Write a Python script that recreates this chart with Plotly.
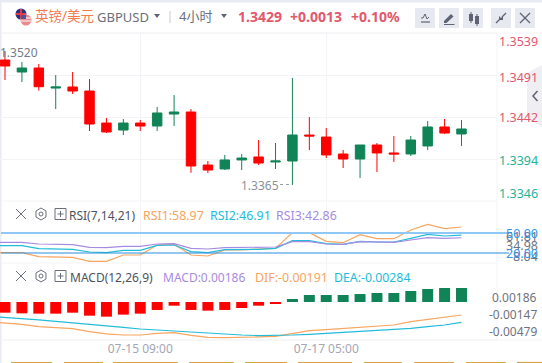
import plotly.graph_objects as go

W, H = 542, 363
index = list(range(28))
line_index = [-1] + index
opens = [1.35081,1.34944,1.34990,1.34761,1.34773,1.34727,1.34361,1.34281,1.34361,1.34327,1.34464,1.34487,1.33881,1.33836,1.33939,1.33973,1.33916,1.33927,1.34224,1.34201,1.34007,1.33950,1.34110,1.34019,1.34007,1.34099,1.34316,1.34236]
highs = [1.35184,1.35059,1.35036,1.34910,1.34944,1.34864,1.34419,1.34407,1.34396,1.34544,1.34681,1.34521,1.33927,1.33996,1.34007,1.34167,1.34133,1.34876,1.34430,1.34304,1.34053,1.34110,1.34133,1.34213,1.34213,1.34384,1.34407,1.34396]
lows = [1.34853,1.34830,1.34731,1.34521,1.34693,1.34270,1.34247,1.34224,1.34270,1.34270,1.34327,1.33793,1.33790,1.33824,1.33824,1.33881,1.33836,1.33653,1.34053,1.33961,1.33847,1.33733,1.33801,1.33916,1.33984,1.34053,1.34236,1.34099]
closes = [1.35013,1.34990,1.34776,1.34773,1.34727,1.34350,1.34259,1.34361,1.34327,1.34476,1.34487,1.33870,1.33824,1.33939,1.33961,1.33904,1.33927,1.34224,1.34213,1.33996,1.33950,1.34110,1.34019,1.34007,1.34167,1.34316,1.34247,1.34293]
rsi1 = [20.5,20.5,20.5,14.5,14.5,13.5,7.5,7.5,17,17,32,33,17,15.5,24.5,24.5,26,27,50.5,50.5,37.5,35.5,47.5,41.5,41.5,54.5,63,56.5,58.97]
rsi2 = [31,31,31,26.5,26.5,25.5,21.5,20.5,24,24,31.5,32,22,20.5,25,25,25.5,27,38.5,38.5,34,33,37.5,36.5,36.5,42,48,45.5,46.91]
rsi3 = [36,36,36,33.5,33,32.5,28.5,28,30,30,33.5,34,27,26,28,28,28.5,29,37,37,33.5,33,37,36,36,39.5,43,42,42.86]
rsi_levels = [50.0, 20.0]
macd = [-.00142,-.00151,-.00155,-.00155,-.00142,-.00182,-.00195,-.00168,-.00155,-.00106,-.00049,-.00106,-.00115,-.00106,-.00080,-.00049,-.00018,.00040,.00093,.00093,.00093,.00106,.00120,.00120,.00146,.00173,.00186,.00186]
dif = [-.00262,-.00275,-.00297,-.00328,-.00341,-.00354,-.00394,-.00425,-.00439,-.00439,-.00416,-.00408,-.00443,-.00470,-.00474,-.00474,-.00465,-.00456,-.00416,-.00381,-.00368,-.00354,-.00337,-.00319,-.00306,-.00261,-.00230,-.00204,-.00173]
dea = [-.00190,-.00204,-.00222,-.00239,-.00257,-.00275,-.00297,-.00319,-.00337,-.00359,-.00372,-.00390,-.00408,-.00421,-.00430,-.00439,-.00447,-.00447,-.00439,-.00430,-.00416,-.00408,-.00394,-.00381,-.00363,-.00350,-.00328,-.00306,-.00270]
x_tick_index = [8, 19]
x_tick_labels = ["07-15 09:00", "07-17 05:00"]
price_grid = [1.3491, 1.3443, 1.3395]

RED = "#ff0000"
GREEN = "#118457"
TXT_RED = "#e2586c"
TXT_GREEN = "#1eb399"
ORANGE = "#f7a560"
CYAN = "#22bcd8"
PURPLE = "#a68be2"
GRID = "#f3f4f7"
FONT = "Noto Sans, Noto Sans CJK SC, sans-serif"
XR = [-0.296, 29.1]

def px(x): return x / W
def py(y): return 1 - y / H

fig = go.Figure()
fig.add_trace(go.Candlestick(x=index, open=opens, high=highs, low=lows, close=closes,
    increasing=dict(line=dict(color=GREEN, width=1), fillcolor=GREEN),
    decreasing=dict(line=dict(color=RED, width=1), fillcolor=RED),
    whiskerwidth=0, xaxis="x", yaxis="y", showlegend=False))
for vals, col in [(rsi1, ORANGE), (rsi2, CYAN), (rsi3, PURPLE)]:
    fig.add_trace(go.Scatter(x=line_index, y=vals, mode="lines", line=dict(color=col, width=1.2), xaxis="x2", yaxis="y2", showlegend=False))
fig.add_trace(go.Bar(x=index, y=macd, width=0.65, marker=dict(color=[GREEN if m > 0 else RED for m in macd], line=dict(width=0)), xaxis="x3", yaxis="y3", showlegend=False))
fig.add_trace(go.Scatter(x=line_index, y=dif, mode="lines", line=dict(color=ORANGE, width=1.2), xaxis="x3", yaxis="y3", showlegend=False))
fig.add_trace(go.Scatter(x=line_index, y=dea, mode="lines", line=dict(color=CYAN, width=1.2), xaxis="x3", yaxis="y3", showlegend=False))

shapes = []
def rect(x0, y0, x1, y1, color, layer="below"):
    shapes.append(dict(type="rect", xref="paper", yref="paper", x0=px(x0), x1=px(x1), y0=py(y0), y1=py(y1), fillcolor=color, line=dict(width=0), layer=layer))
def line(x0, y0, x1, y1, color, w=1, dash=None, layer="above"):
    shapes.append(dict(type="line", xref="paper", yref="paper", x0=px(x0), x1=px(x1), y0=py(y0), y1=py(y1), line=dict(color=color, width=w, dash=dash or "solid"), layer=layer))
def path(points, color=None, stroke=None, w=1, close=True):
    s = "M " + " L ".join(f"{px(a):.5f},{py(b):.5f}" for a, b in points) + (" Z" if close else "")
    shapes.append(dict(type="path", xref="paper", yref="paper", path=s, fillcolor=color, line=dict(color=stroke or "rgba(0,0,0,0)", width=w), layer="above"))
def circle(cx, cy, r, color=None, stroke=None, w=1):
    shapes.append(dict(type="circle", xref="paper", yref="paper", x0=px(cx-r), x1=px(cx+r), y0=py(cy+r), y1=py(cy-r), fillcolor=color, line=dict(color=stroke or "rgba(0,0,0,0)", width=w), layer="above"))

# RSI reference levels run the whole panel and into the label gutter
for level, col, wd in zip(rsi_levels, ("#8fc8f7", "#2a90e0"), (2, 1.2)):
    shapes.append(dict(type="line", xref="paper", yref="y2", x0=px(1), x1=px(509), y0=level, y1=level, line=dict(color=col, width=wd), layer="above"))
# page frame
rect(0, 0, 542, 2.5, "#e8ebf1")
rect(0, 0, 1.5, 363, "#e8ebf1")
# panel rules
for y in (33, 201, 263, 340):
    line(1, y, 497, y, GRID, 1, layer="below")
line(497, 33, 497, 340, GRID, 1, layer="below")
line(1, 33, 542, 33, GRID, 1, layer="below")
line(1, 340, 542, 340, GRID, 1, layer="below")
# side flap
path([(542, 65), (527, 73), (527, 118), (542, 127)], "#eeeef3")
path([(537.5, 91), (533, 96), (537.5, 101)], None, "#5f6373", 1.5, close=False)
# toolbar buttons
ICON = "#5f6373"
for x0 in (415, 439, 463, 491, 515):
    rect(x0, 8, x0 + 20, 28, "#e6e9f0", layer="above")
path([(421, 18), (423, 18), (425, 14), (427, 19), (429, 17)], None, ICON, 1, close=False)
line(421, 22, 430, 22, ICON, 1.2)
path([(444, 21), (451, 14), (453.5, 16.5), (446.5, 23), (444, 23)], ICON)
line(444, 24.5, 454.5, 24.5, ICON, 1)
rect(469, 14, 473, 21, ICON, layer="above"); line(471, 12, 471, 23, ICON, 1)
rect(475, 16, 479, 24, ICON, layer="above"); line(477, 14, 477, 26, ICON, 1)
line(496, 23, 500, 19, ICON, 1.3); line(502, 17, 506, 13, ICON, 1.3)
path([(499, 16), (503, 20), (499, 20)], ICON); path([(503, 16), (503, 20), (499, 20)], ICON)
line(520, 13, 530, 23, ICON, 1.2); line(530, 13, 520, 23, ICON, 1.2)
# header separator
line(170, 11, 170, 23, "#c9ccd6", 1)
path([(154, 14), (160, 14), (157, 18)], "#5f6373")
path([(221, 14), (227, 14), (224, 18)], "#5f6373")
# flags
circle(21, 14, 5.5, "#27337a")
line(16, 14, 26, 14, "#e23b4a", 2)
line(21, 9, 21, 19, "#e23b4a", 2)
circle(26, 20, 5.5, "#e98a8f")
line(21, 18, 31, 18, "#ffffff", 1); line(21, 21, 31, 21, "#ffffff", 1)
rect(21, 15, 26, 19, "#4a57a0", layer="above")
# panel tool icons
for cy in (214, 276):
    line(16, cy-5, 26, cy+5, "#6b6f7c", 1); line(26, cy-5, 16, cy+5, "#6b6f7c", 1)
    path([(41, cy-6), (46, cy-3), (46, cy+3), (41, cy+6), (36, cy+3), (36, cy-3)], None, "#6b6f7c", 1)
    circle(41, cy, 2, None, "#6b6f7c", 1)
    shapes.append(dict(type="rect", xref="paper", yref="paper", x0=px(55), x1=px(66), y0=py(cy+5.5), y1=py(cy-5.5), line=dict(color="#6b6f7c", width=1), layer="above"))
    line(57.5, cy, 63.5, cy, "#6b6f7c", 1); line(60.5, cy-3, 60.5, cy+3, "#6b6f7c", 1)
# leader for low label
line(280, 184.5, 291, 184.5, "#9a9daa", 1, dash="dot")
# clipped strip at bottom
for a, b in [(11,52),(64,103),(113,178),(189,234),(245,287),(298,352),(364,402),(414,454),(466,506),(517,542)]:
    line(a, 362.5, b, 362.5, "#d9a441", 1.2)

ann = []
def text(x, y, s, color, size=12, anchor="left", bold=False):
    ann.append(dict(xref="paper", yref="paper", x=px(x), y=py(y), text=f"<b>{s}</b>" if bold else s, showarrow=False,
                    xanchor=anchor, yanchor="middle", align=anchor, font=dict(family=FONT, size=size, color=color),
                    borderpad=0, borderwidth=0))
text(35, 16, "英镑/美元", "#f27a4e", 13.5)
text(97, 17, "GBPUSD", "#6b6f7c", 13)
text(179, 16, "4小时", "#6b6f7c", 13)
text(238, 16, "1.3429", TXT_RED, 14, bold=True)
text(290, 16, "+0.0013", TXT_RED, 14, bold=True)
text(351, 16, "+0.10%", TXT_RED, 14, bold=True)
text(0, 52, "1.3520", "#777b88", 12)
text(241, 186, "1.3365", "#8c8f9c", 12)
for y, s, c in [(41, "1.3539", TXT_RED), (77, "1.3491", TXT_RED), (118, "1.3442", TXT_RED), (161, "1.3394", TXT_GREEN), (193, "1.3346", TXT_GREEN)]:
    text(538, y, s, c, 12.5, "right")
text(69, 215, "RSI(7,14,21)", "#4e5260", 12)
text(143, 215, "RSI1:58.97", ORANGE, 12.4)
text(210, 215, "RSI2:46.91", CYAN, 12.4)
text(276, 215, "RSI3:42.86", PURPLE, 12.4)
for y, s in [(236, "61.81"), (245, "34.98"), (256, "8.04")]:
    text(538, y, s, "#70747f", 12.5, "right")
for y, s in [(233, "50.00"), (253, "20.00")]:
    text(538, y, s, "#2f96ee", 12.5, "right")
text(70, 277, "MACD(12,26,9)", "#4e5260", 12)
text(163, 277, "MACD:0.00186", PURPLE, 12)
text(255, 277, "DIF:-0.00191", ORANGE, 12.4)
text(334, 277, "DEA:-0.00284", CYAN, 12.3)
for y, s in [(297, "0.00186"), (314, "-0.00147"), (331, "-0.00479")]:
    text(537, y, s, "#6f7380", 12, "right")

xbase = dict(range=XR, tickmode="array", tickvals=x_tick_index, showgrid=True, gridcolor=GRID, gridwidth=1, zeroline=False, showline=False, ticks="", fixedrange=True)
dom = [0, 497 / W]
fig.update_layout(
    width=W, height=H, margin=dict(l=0, r=0, t=0, b=0), autosize=False,
    paper_bgcolor="white", plot_bgcolor="white", showlegend=False, boxgap=0.2, bargap=0.35, hovermode=False,
    xaxis=dict(xbase, domain=dom, anchor="y", showticklabels=False, rangeslider=dict(visible=False)),
    xaxis2=dict(xbase, domain=dom, anchor="y2", showticklabels=False),
    xaxis3=dict(xbase, domain=dom, anchor="y3", showticklabels=True, ticktext=x_tick_labels,
                tickfont=dict(family=FONT, size=12, color="#a3a6b4")),
    yaxis=dict(domain=[py(201), py(33)], range=[1.3347, 1.3539], tickmode="array", tickvals=price_grid, showticklabels=False, showgrid=True, gridcolor=GRID, zeroline=False, anchor="x"),
    yaxis2=dict(domain=[py(263), py(203)], range=[5, 95], showticklabels=False, showgrid=False, zeroline=False, anchor="x2"),
    yaxis3=dict(domain=[py(340), py(264)], range=[-0.005054, 0.005054], showticklabels=False, showgrid=False, zeroline=False, anchor="x3"),
    shapes=shapes, annotations=ann,
)
fig.write_html("out.html", config=dict(displayModeBar=False, responsive=False),
               post_script="document.body.style.margin='0';document.body.style.overflow='hidden';")
